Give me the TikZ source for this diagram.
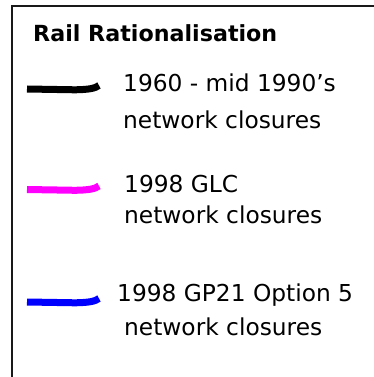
\documentclass[tikz,border=0pt]{standalone}
\usepackage{fontspec}
\setmainfont{DejaVu Sans}
\newfontfamily\titlefont{DejaVu Sans}
\definecolor{lmag}{RGB}{255,0,255}
\definecolor{lblue}{RGB}{0,0,255}
\begin{document}
\begin{tikzpicture}[x=1pt,y=-1pt,
  frame/.style={line width=2pt,black!90},
  title/.style={anchor=base west,inner sep=0pt,font=\titlefont\bfseries\fontsize{22.2}{26}\selectfont},
  label/.style={anchor=base west,inner sep=0pt,font=\fontsize{23.3}{28}\selectfont},
  brush/.style={line width=7pt,line cap=butt}]
\useasboundingbox (0,0) rectangle (374,377);
\fill[white] (0,0) rectangle (374,377);
\coordinate (fb) at (12,378);
\coordinate (ftl) at (12,6);
\coordinate (ftr) at (375,6);
\draw[frame] (fb) -- (ftl) -- (ftr);
\node[title] (t) at (33,42) {Rail Rationalisation};
% strokes
\coordinate (a1) at (27,89);
\coordinate (a2) at (99,85.5);
\draw[brush,black] (a1) -- (75,89.8) .. controls (88,89.6) and (95,88.5) .. (a2);
\coordinate (b1) at (27,189.5);
\coordinate (b2) at (99,186);
\draw[brush,lmag] (b1) -- (75,190.3) .. controls (88,190.1) and (95,189) .. (b2);
\coordinate (c1) at (27,302);
\coordinate (c2) at (99,298.5);
\draw[brush,lblue] (c1) -- (75,302.8) .. controls (88,302.6) and (95,301.5) .. (c2);
% labels
\node[label] (l1a) at (123,92) {1960 - mid 1990’s};
\node[label] (l1b) at (123,128.5) {network closures};
\node[label] (l2a) at (124,192) {1998 GLC};
\node[label] (l2b) at (124,223) {network closures};
\node[label] (l3a) at (117,301) {1998 GP21 Option 5};
\node[label] (l3b) at (124,335) {network closures};
\end{tikzpicture}
\end{document}
